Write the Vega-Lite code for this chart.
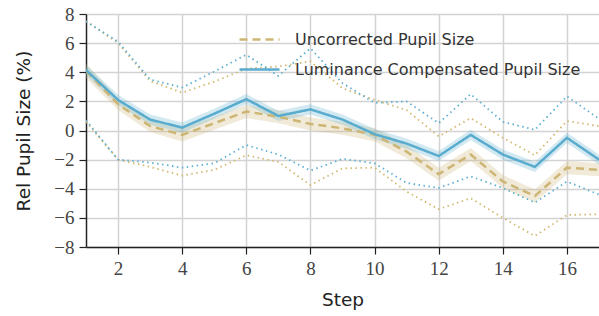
{
  "$schema": "https://vega.github.io/schema/vega-lite/v6.json",
  "width": 513,
  "height": 233,
  "autosize": "none",
  "padding": {"left": 86, "top": 14, "right": 0, "bottom": 69},
  "background": "white",
  "config": {
    "view": {"stroke": null},
    "axis": {
      "gridColor": "#d3d3d3", "gridWidth": 1.5, "domainColor": "#222", "domainWidth": 1.5,
      "tickColor": "#222", "tickWidth": 1.2, "tickSize": 7,
      "labelColor": "#444", "labelPadding": 5, "labelFont": "Times New Roman, Liberation Serif, serif", "labelFontSize": 19, "labelOverlap": false,
      "titleFont": "DejaVu Sans", "titleFontSize": 18.5, "titleFontWeight": "normal", "titleColor": "#222"
    },
    "axisY": {"labelFlush": false, "titlePadding": 20},
    "axisX": {"titlePadding": 12},
    "legend": {"labelFont": "DejaVu Sans", "labelFontSize": 16, "labelColor": "#333", "labelLimit": 400}
  },
  "data": {"values": [
    {"step":1,"series":"Uncorrected Pupil Size","mean":4.1,"lo":3.6,"hi":4.6,"upper":7.5,"lower":0.6},
    {"step":2,"series":"Uncorrected Pupil Size","mean":1.8,"lo":1.4,"hi":2.2,"upper":6.0,"lower":-2.0},
    {"step":3,"series":"Uncorrected Pupil Size","mean":0.3,"lo":-0.1,"hi":0.7,"upper":3.4,"lower":-2.5},
    {"step":4,"series":"Uncorrected Pupil Size","mean":-0.3,"lo":-0.75,"hi":0.15,"upper":2.6,"lower":-3.1},
    {"step":5,"series":"Uncorrected Pupil Size","mean":0.5,"lo":0.05,"hi":0.95,"upper":3.35,"lower":-2.7},
    {"step":6,"series":"Uncorrected Pupil Size","mean":1.3,"lo":0.85,"hi":1.75,"upper":4.25,"lower":-1.7},
    {"step":7,"series":"Uncorrected Pupil Size","mean":0.95,"lo":0.5,"hi":1.4,"upper":4.4,"lower":-2.15},
    {"step":8,"series":"Uncorrected Pupil Size","mean":0.45,"lo":0.0,"hi":0.9,"upper":4.75,"lower":-3.75},
    {"step":9,"series":"Uncorrected Pupil Size","mean":0.15,"lo":-0.3,"hi":0.6,"upper":2.9,"lower":-2.6},
    {"step":10,"series":"Uncorrected Pupil Size","mean":-0.3,"lo":-0.75,"hi":0.15,"upper":2.1,"lower":-2.55},
    {"step":11,"series":"Uncorrected Pupil Size","mean":-1.45,"lo":-1.9,"hi":-1.0,"upper":1.4,"lower":-4.2},
    {"step":12,"series":"Uncorrected Pupil Size","mean":-3.0,"lo":-3.45,"hi":-2.55,"upper":-0.4,"lower":-5.4},
    {"step":13,"series":"Uncorrected Pupil Size","mean":-1.65,"lo":-2.1,"hi":-1.2,"upper":0.85,"lower":-4.65},
    {"step":14,"series":"Uncorrected Pupil Size","mean":-3.5,"lo":-3.95,"hi":-3.05,"upper":-0.5,"lower":-6.0},
    {"step":15,"series":"Uncorrected Pupil Size","mean":-4.5,"lo":-4.95,"hi":-4.05,"upper":-1.7,"lower":-7.25},
    {"step":16,"series":"Uncorrected Pupil Size","mean":-2.55,"lo":-3.0,"hi":-2.1,"upper":0.65,"lower":-5.8},
    {"step":17,"series":"Uncorrected Pupil Size","mean":-2.7,"lo":-3.15,"hi":-2.25,"upper":0.3,"lower":-5.75},
    {"step":1,"series":"Luminance Compensated Pupil Size","mean":4.15,"lo":3.8,"hi":4.5,"upper":7.5,"lower":0.7},
    {"step":2,"series":"Luminance Compensated Pupil Size","mean":2.1,"lo":1.75,"hi":2.45,"upper":6.1,"lower":-2.0},
    {"step":3,"series":"Luminance Compensated Pupil Size","mean":0.75,"lo":0.4,"hi":1.1,"upper":3.5,"lower":-2.2},
    {"step":4,"series":"Luminance Compensated Pupil Size","mean":0.2,"lo":-0.15,"hi":0.55,"upper":2.95,"lower":-2.55},
    {"step":5,"series":"Luminance Compensated Pupil Size","mean":1.15,"lo":0.8,"hi":1.5,"upper":4.05,"lower":-2.25},
    {"step":6,"series":"Luminance Compensated Pupil Size","mean":2.15,"lo":1.8,"hi":2.5,"upper":5.2,"lower":-1.0},
    {"step":7,"series":"Luminance Compensated Pupil Size","mean":1.0,"lo":0.65,"hi":1.35,"upper":3.75,"lower":-1.65},
    {"step":8,"series":"Luminance Compensated Pupil Size","mean":1.45,"lo":1.1,"hi":1.8,"upper":5.65,"lower":-2.75},
    {"step":9,"series":"Luminance Compensated Pupil Size","mean":0.75,"lo":0.4,"hi":1.1,"upper":3.25,"lower":-1.95},
    {"step":10,"series":"Luminance Compensated Pupil Size","mean":-0.25,"lo":-0.6,"hi":0.1,"upper":1.9,"lower":-2.25},
    {"step":11,"series":"Luminance Compensated Pupil Size","mean":-0.9,"lo":-1.25,"hi":-0.55,"upper":2.0,"lower":-3.6},
    {"step":12,"series":"Luminance Compensated Pupil Size","mean":-1.75,"lo":-2.1,"hi":-1.4,"upper":0.5,"lower":-3.95},
    {"step":13,"series":"Luminance Compensated Pupil Size","mean":-0.3,"lo":-0.65,"hi":0.05,"upper":2.5,"lower":-3.15},
    {"step":14,"series":"Luminance Compensated Pupil Size","mean":-1.65,"lo":-2.0,"hi":-1.3,"upper":0.6,"lower":-3.95},
    {"step":15,"series":"Luminance Compensated Pupil Size","mean":-2.5,"lo":-2.85,"hi":-2.15,"upper":0.05,"lower":-4.95},
    {"step":16,"series":"Luminance Compensated Pupil Size","mean":-0.5,"lo":-0.85,"hi":-0.15,"upper":2.35,"lower":-3.5},
    {"step":17,"series":"Luminance Compensated Pupil Size","mean":-2.0,"lo":-2.35,"hi":-1.65,"upper":0.8,"lower":-4.4}
  ]},
  "encoding": {
    "x": {"field": "step", "type": "quantitative", "title": "Step",
      "scale": {"domain": [1, 17], "nice": false, "zero": false},
      "axis": {"values": [2,4,6,8,10,12,14,16]}}
  },
  "layer": [
    {
      "transform": [{"filter": "datum.series === 'Uncorrected Pupil Size'"}],
      "mark": {"type": "area", "fill": "#cdb574", "fillOpacity": 0.28, "clip": true},
      "encoding": {
        "y": {"field": "lo", "type": "quantitative", "title": "Rel Pupil Size (%)",
          "scale": {"domain": [-8, 8], "nice": false},
          "axis": {"values": [-8,-6,-4,-2,0,2,4,6,8]}},
        "y2": {"field": "hi"}
      }
    },
    {
      "transform": [{"filter": "datum.series === 'Luminance Compensated Pupil Size'"}],
      "mark": {"type": "area", "fill": "#5fb0d2", "fillOpacity": 0.28, "clip": true},
      "encoding": {
        "y": {"field": "lo", "type": "quantitative", "title": "Rel Pupil Size (%)", "axis": {"values": [-8,-6,-4,-2,0,2,4,6,8]}},
        "y2": {"field": "hi"}
      }
    },
    {
      "transform": [{"filter": "datum.series === 'Uncorrected Pupil Size'"}],
      "mark": {"type": "line", "stroke": "#d2b870", "strokeWidth": 1.8, "strokeDash": [1.5, 3.5], "clip": true},
      "encoding": {"y": {"field": "upper", "type": "quantitative", "title": "Rel Pupil Size (%)", "axis": {"values": [-8,-6,-4,-2,0,2,4,6,8]}}}
    },
    {
      "transform": [{"filter": "datum.series === 'Uncorrected Pupil Size'"}],
      "mark": {"type": "line", "stroke": "#d2b870", "strokeWidth": 1.8, "strokeDash": [1.5, 3.5], "clip": true},
      "encoding": {"y": {"field": "lower", "type": "quantitative", "title": "Rel Pupil Size (%)", "axis": {"values": [-8,-6,-4,-2,0,2,4,6,8]}}}
    },
    {
      "transform": [{"filter": "datum.series === 'Luminance Compensated Pupil Size'"}],
      "mark": {"type": "line", "stroke": "#5fb0d2", "strokeWidth": 1.8, "strokeDash": [1.5, 3.5], "clip": true},
      "encoding": {"y": {"field": "upper", "type": "quantitative", "title": "Rel Pupil Size (%)", "axis": {"values": [-8,-6,-4,-2,0,2,4,6,8]}}}
    },
    {
      "transform": [{"filter": "datum.series === 'Luminance Compensated Pupil Size'"}],
      "mark": {"type": "line", "stroke": "#5fb0d2", "strokeWidth": 1.8, "strokeDash": [1.5, 3.5], "clip": true},
      "encoding": {"y": {"field": "lower", "type": "quantitative", "title": "Rel Pupil Size (%)", "axis": {"values": [-8,-6,-4,-2,0,2,4,6,8]}}}
    },
    {
      "mark": {"type": "line", "strokeWidth": 2.5, "clip": true},
      "encoding": {
        "y": {"field": "mean", "type": "quantitative", "title": "Rel Pupil Size (%)", "axis": {"values": [-8,-6,-4,-2,0,2,4,6,8]}},
        "color": {"field": "series", "type": "nominal", "title": null,
          "scale": {"domain": ["Uncorrected Pupil Size", "Luminance Compensated Pupil Size"], "range": ["#cdb574", "#5aaccf"]},
          "legend": {"orient": "none", "legendX": 152, "legendY": 4, "symbolType": "stroke", "symbolSize": 1600, "symbolStrokeWidth": 2.5, "rowPadding": -15, "labelOffset": 14}},
        "strokeDash": {"field": "series", "type": "nominal", "title": null,
          "scale": {"domain": ["Uncorrected Pupil Size", "Luminance Compensated Pupil Size"], "range": [[8, 5], [1, 0]]}}
      }
    }
  ]
}
